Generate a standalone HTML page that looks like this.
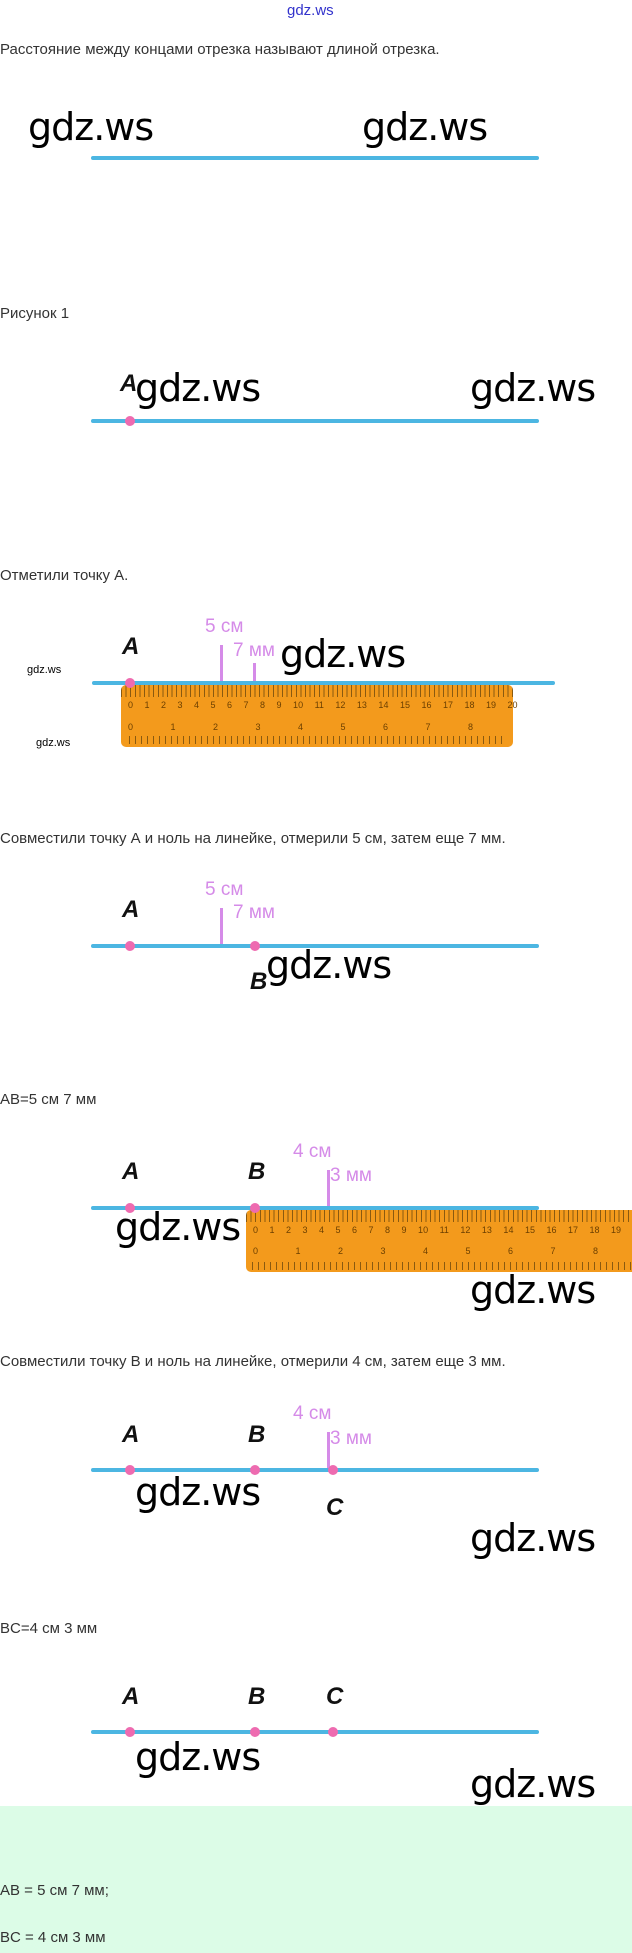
<!DOCTYPE html>
<html><head><meta charset="utf-8"><style>
body{margin:0;width:632px;height:1953px;position:relative;background:#fff;font-family:"Liberation Sans",sans-serif;overflow:hidden}
.a{position:absolute;white-space:nowrap}
.t{font-size:15px;color:#333}
.w{font-size:38px;color:#000;font-family:"DejaVu Sans",sans-serif;letter-spacing:-1px}
.ws{font-size:11px;color:#000}
.ln{position:absolute;height:4px;background:#4cb6e2;border-radius:2px}
.pt{position:absolute;width:10px;height:10px;border-radius:5px;background:#ee6bb0}
.L{font-size:24px;font-style:italic;font-weight:bold;color:#111;font-family:"Liberation Sans Narrow","Liberation Sans",sans-serif}
.p{color:#d58be8;font-size:19px}
.pl{position:absolute;width:3px;background:#d58be8}
.r{position:absolute;height:62px;background:#f39a1c;border-radius:5px;background-image:repeating-linear-gradient(90deg,#8a5a10 0 1px,transparent 1px 4.6px);background-size:100% 12px;background-repeat:no-repeat}
.r2{position:absolute;background-image:repeating-linear-gradient(90deg,#8a5a10 0 1px,transparent 1px 6px);height:8px}
</style></head><body>
<div class="a" style="left:287px;top:2px;font-size:15px;color:#3333cc">gdz.ws</div>
<div class="a t" style="left:0;top:41px">Расстояние между концами отрезка называют длиной отрезка.</div>
<div class="a w" style="left:28px;top:105px">gdz.ws</div>
<div class="a w" style="left:362px;top:105px">gdz.ws</div>
<div class="ln" style="left:91px;top:156px;width:448px"></div>

<div class="a t" style="left:0;top:305px">Рисунок 1</div>
<div class="a L" style="left:120px;top:370px">A</div>
<div class="a w" style="left:135px;top:366px">gdz.ws</div>
<div class="a w" style="left:470px;top:366px">gdz.ws</div>
<div class="ln" style="left:91px;top:419px;width:448px"></div>
<div class="pt" style="left:125px;top:416px"></div>

<div class="a t" style="left:0;top:567px">Отметили точку А.</div>
<div class="a L" style="left:122px;top:633px">A</div>
<div class="a p" style="left:205px;top:616px">5 см</div>
<div class="a p" style="left:233px;top:640px">7 мм</div>
<div class="pl" style="left:220px;top:645px;height:38px"></div>
<div class="pl" style="left:253px;top:663px;height:20px"></div>
<div class="a w" style="left:280px;top:632px">gdz.ws</div>
<div class="a ws" style="left:27px;top:664px">gdz.ws</div>
<div class="a ws" style="left:36px;top:737px">gdz.ws</div>
<div class="ln" style="left:92px;top:681px;width:463px"></div>
<div class="r" style="left:121px;top:685px;width:392px"></div>
<div class="r2" style="left:129px;top:736px;width:376px"></div>
<div class="a" style="left:128px;top:700px;font-size:9px;color:#6b3f00;word-spacing:9px">0 1 2 3 4 5 6 7 8 9 10 11 12 13 14 15 16 17 18 19 20</div>
<div class="a" style="left:128px;top:722px;font-size:9px;color:#6b3f00;word-spacing:35px">0 1 2 3 4 5 6 7 8</div>
<div class="pt" style="left:125px;top:678px"></div>

<div class="a t" style="left:0;top:830px">Совместили точку А и ноль на линейке, отмерили 5 см, затем еще 7 мм.</div>
<div class="a p" style="left:205px;top:879px">5 см</div>
<div class="a p" style="left:233px;top:902px">7 мм</div>
<div class="pl" style="left:220px;top:908px;height:38px"></div>
<div class="a L" style="left:122px;top:896px">A</div>
<div class="ln" style="left:91px;top:944px;width:448px"></div>
<div class="pt" style="left:125px;top:941px"></div>
<div class="pt" style="left:250px;top:941px"></div>
<div class="a L" style="left:250px;top:968px">B</div>
<div class="a w" style="left:266px;top:943px">gdz.ws</div>

<div class="a t" style="left:0;top:1091px">AB=5 см 7 мм</div>
<div class="a L" style="left:122px;top:1158px">A</div>
<div class="a L" style="left:248px;top:1158px">B</div>
<div class="a p" style="left:293px;top:1141px">4 см</div>
<div class="a p" style="left:330px;top:1165px">3 мм</div>
<div class="pl" style="left:327px;top:1170px;height:36px"></div>
<div class="ln" style="left:91px;top:1206px;width:448px"></div>
<div class="r" style="left:246px;top:1210px;width:400px"></div>
<div class="r2" style="left:252px;top:1262px;width:380px"></div>
<div class="a" style="left:253px;top:1225px;font-size:9px;color:#6b3f00;word-spacing:9px">0 1 2 3 4 5 6 7 8 9 10 11 12 13 14 15 16 17 18 19 20</div>
<div class="a" style="left:253px;top:1246px;font-size:9px;color:#6b3f00;word-spacing:35px">0 1 2 3 4 5 6 7 8</div>
<div class="pt" style="left:125px;top:1203px"></div>
<div class="pt" style="left:250px;top:1203px"></div>
<div class="a w" style="left:115px;top:1205px">gdz.ws</div>
<div class="a w" style="left:470px;top:1268px">gdz.ws</div>

<div class="a t" style="left:0;top:1353px">Совместили точку В и ноль на линейке, отмерили 4 см, затем еще 3 мм.</div>
<div class="a p" style="left:293px;top:1403px">4 см</div>
<div class="a p" style="left:330px;top:1428px">3 мм</div>
<div class="pl" style="left:327px;top:1432px;height:36px"></div>
<div class="a L" style="left:122px;top:1421px">A</div>
<div class="a L" style="left:248px;top:1421px">B</div>
<div class="ln" style="left:91px;top:1468px;width:448px"></div>
<div class="pt" style="left:125px;top:1465px"></div>
<div class="pt" style="left:250px;top:1465px"></div>
<div class="pt" style="left:328px;top:1465px"></div>
<div class="a L" style="left:326px;top:1494px">C</div>
<div class="a w" style="left:135px;top:1470px">gdz.ws</div>
<div class="a w" style="left:470px;top:1516px">gdz.ws</div>

<div class="a t" style="left:0;top:1620px">BC=4 см 3 мм</div>
<div class="a L" style="left:122px;top:1683px">A</div>
<div class="a L" style="left:248px;top:1683px">B</div>
<div class="a L" style="left:326px;top:1683px">C</div>
<div class="ln" style="left:91px;top:1730px;width:448px"></div>
<div class="pt" style="left:125px;top:1727px"></div>
<div class="pt" style="left:250px;top:1727px"></div>
<div class="pt" style="left:328px;top:1727px"></div>
<div class="a w" style="left:135px;top:1735px">gdz.ws</div>
<div class="a w" style="left:470px;top:1762px">gdz.ws</div>

<div style="position:absolute;left:0;top:1806px;width:632px;height:147px;background:#dcfce7"></div>
<div class="a t" style="left:0;top:1882px">AB = 5 см 7 мм;</div>
<div class="a t" style="left:0;top:1929px">BC = 4 см 3 мм</div>
</body></html>
